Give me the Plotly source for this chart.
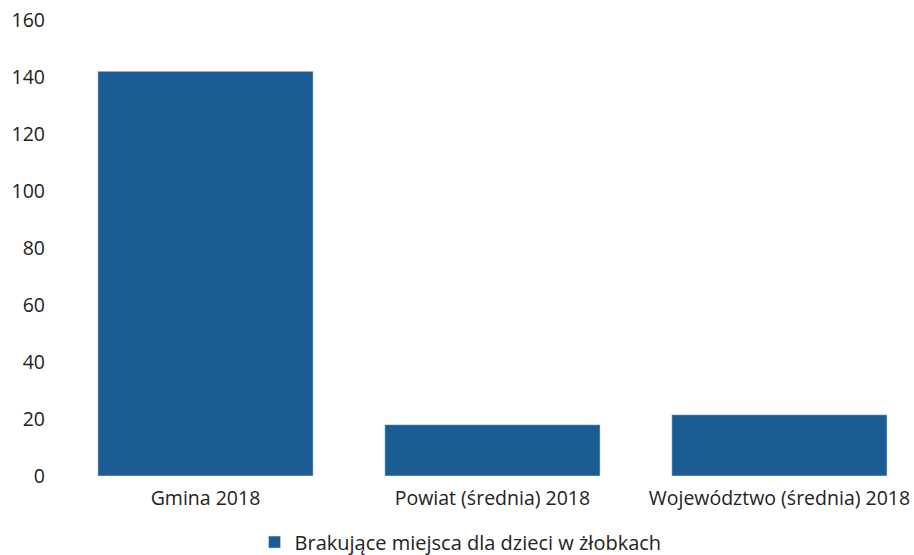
import plotly.graph_objects as go

categories = ["Gmina 2018", "Powiat (średnia) 2018", "Województwo (średnia) 2018"]
values = [142, 18, 21.5]
series_name = "Brakujące miejsca dla dzieci w żłobkach"
y_ticks = [0, 20, 40, 60, 80, 100, 120, 140, 160]

fig = go.Figure()
fig.add_trace(go.Bar(
    x=categories, y=values, name=series_name,
    marker=dict(color="#1b5c95"),
    showlegend=True,
))

fig.update_layout(
    width=914, height=555,
    margin=dict(l=62, r=4, t=20, b=79, autoexpand=False),
    plot_bgcolor="white", paper_bgcolor="white",
    font=dict(family="Open Sans", size=19.5, color="#222222"),
    bargap=0.25,
    legend=dict(orientation="h", x=0.47, xanchor="center", y=-0.145, yanchor="middle",
                font=dict(size=20), itemwidth=30),
    xaxis=dict(range=[-0.5, 2.455], showgrid=False, showline=False, ticks="",
               ticklabelstandoff=8),
    yaxis=dict(range=[0, 160], tickvals=y_ticks, showgrid=False, zeroline=False,
               showline=False, ticklabelstandoff=16),
)

fig.write_html("out.html", config={"displayModeBar": False},
               post_script="document.body.style.margin='0';")
